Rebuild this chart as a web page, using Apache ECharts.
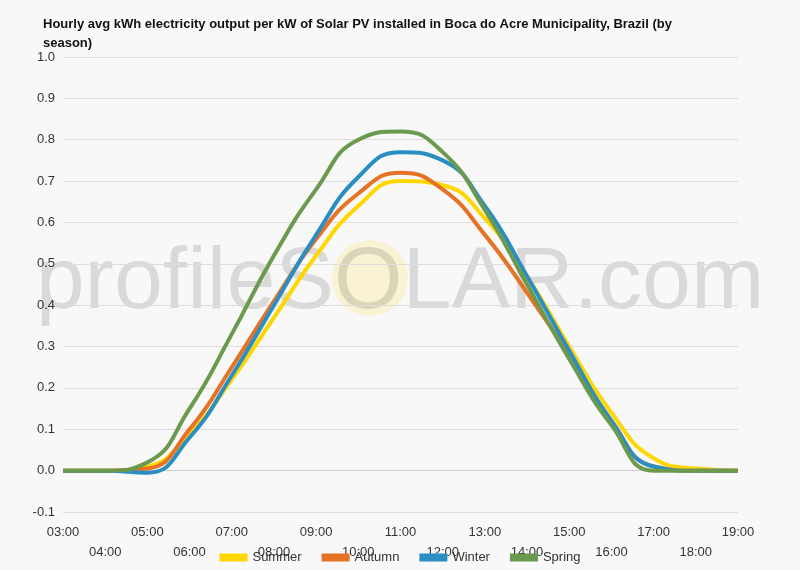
<!DOCTYPE html><html><head><meta charset="utf-8"><script src="https://cdn.jsdelivr.net/npm/echarts@6/dist/echarts.min.js"></script></head><body style="margin:0;background:#f8f8f8"><div id="c" style="width:800px;height:570px"></div><script>
const hours=['03:00','04:00','05:00','06:00','07:00','08:00','09:00','10:00','11:00','12:00','13:00','14:00','15:00','16:00','17:00','18:00','19:00'];
const summer=[0,0,0.01,0.09,0.22,0.37,0.52,0.64,0.70,0.69,0.61,0.47,0.30,0.14,0.03,0.005,0];
const autumn=[0,0,0.005,0.10,0.25,0.41,0.56,0.67,0.72,0.68,0.57,0.43,0.28,0.12,0.01,0,0];
const winter=[0,0,-0.005,0.08,0.23,0.40,0.57,0.71,0.77,0.75,0.64,0.47,0.29,0.12,0.01,0,0];
const spring=[0,0,0.02,0.15,0.33,0.52,0.68,0.80,0.82,0.77,0.63,0.45,0.27,0.11,0.0,0,0];
const names=['Summer','Autumn','Winter','Spring'],cols=['#ffd700','#e67325','#2b8ec2','#6b9a4e'],data=[summer,autumn,winter,spring];
const ch=echarts.init(document.getElementById('c'));
ch.setOption({backgroundColor:'#f8f8f8',
title:{text:'Hourly avg kWh electricity output per kW of Solar PV installed in Boca do Acre Municipality, Brazil (by\nseason)',left:38,top:10,textStyle:{fontSize:13,fontWeight:'bold',color:'#111',lineHeight:19,fontFamily:'Liberation Sans'}},
graphic:[{type:'circle',shape:{cx:370,cy:278,r:38},style:{fill:'rgba(255,215,0,0.15)'},z:0},
{type:'text',left:'center',top:240,style:{text:'profileSOLAR.com',fontSize:88,fill:'rgba(0,0,0,0.12)',fontFamily:'Liberation Sans'},z:0}],
legend:{bottom:1,itemWidth:28,itemHeight:8,icon:'rect',itemGap:20,textStyle:{fontSize:13,color:'#333'},data:names},
grid:{left:63,right:62,top:57,bottom:58},
xAxis:{type:'category',boundaryGap:false,data:hours,axisTick:{show:false},axisLine:{lineStyle:{color:'#ccc'}},axisLabel:{interval:0,color:'#333',fontSize:13,margin:10,lineHeight:20,formatter:(v,i)=>i%2?'\n'+v:v}},
yAxis:{type:'value',min:-0.1,max:1.0,interval:0.1,axisLabel:{color:'#333',fontSize:13,formatter:v=>v.toFixed(1)},splitLine:{lineStyle:{color:'#ddd'}}},
series:names.map((n,i)=>({name:n,type:'line',smooth:0.5,showSymbol:false,data:data[i],lineStyle:{width:4,color:cols[i]},itemStyle:{color:cols[i]}}))});
</script></body></html>
